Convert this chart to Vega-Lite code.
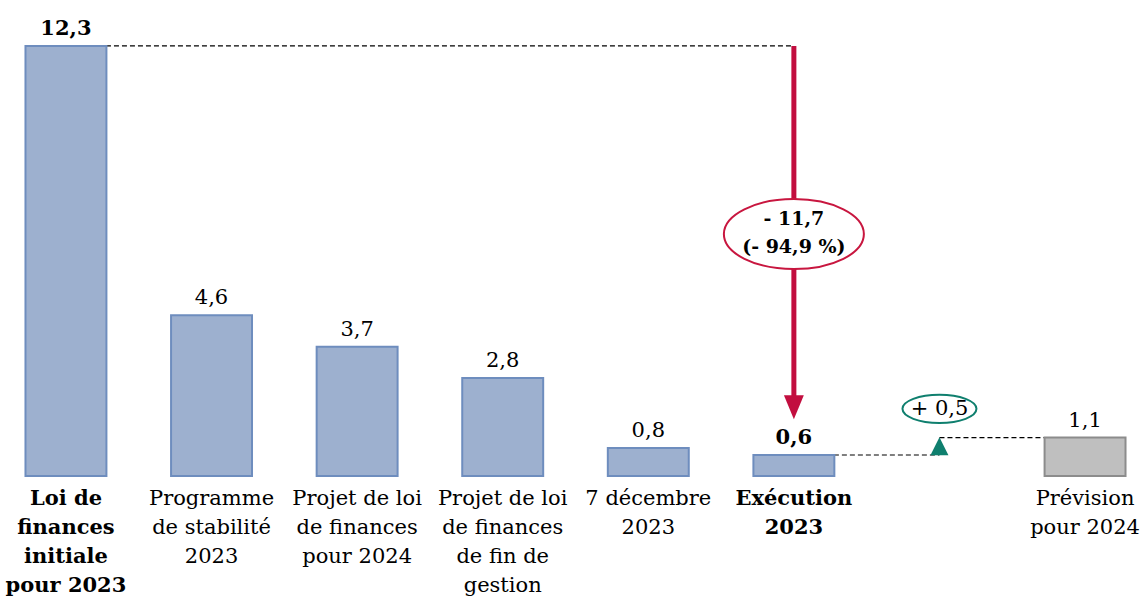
{
  "$schema": "https://vega.github.io/schema/vega-lite/v6.json",
  "width": 1151,
  "height": 476,
  "autosize": {"type": "none"},
  "padding": {"left": 0, "top": 0, "right": 0, "bottom": 120},
  "config": {
    "view": {"stroke": null},
    "font": "DejaVu Serif",
    "locale": {"number": {"decimal": ",", "thousands": " ", "grouping": [3], "currency": ["", " €"]}}
  },
  "datasets": {
    "bars": [
      {"cat": "Loi de|finances|initiale|pour 2023", "value": 12.3, "kind": "hist", "strong": true},
      {"cat": "Programme|de stabilité|2023", "value": 4.6, "kind": "hist", "strong": false},
      {"cat": "Projet de loi|de finances|pour 2024", "value": 3.7, "kind": "hist", "strong": false},
      {"cat": "Projet de loi|de finances|de fin de|gestion", "value": 2.8, "kind": "hist", "strong": false},
      {"cat": "7 décembre|2023", "value": 0.8, "kind": "hist", "strong": false},
      {"cat": "Exécution|2023", "value": 0.6, "kind": "hist", "strong": true},
      {"cat": "Prévision|pour 2024", "value": 1.1, "kind": "prev", "strong": false}
    ],
    "connectors": [
      {"cat": "Loi de|finances|initiale|pour 2023", "cat2": "Exécution|2023", "value": 12.3},
      {"cat": "Exécution|2023", "cat2": " ", "value": 0.6},
      {"cat": " ", "cat2": "Prévision|pour 2024", "value": 1.1}
    ],
    "redArrow": [
      {"cat": "Exécution|2023", "value": 12.3, "end": 2.2, "head": 1.97, "bubble": 6.92, "text": "- 11,7|(- 94,9 %)"}
    ],
    "greenMark": [
      {"cat": " ", "tri": 0.85, "bubble": 1.92, "text": "+ 0,5"}
    ]
  },
  "encoding": {
    "x": {
      "field": "cat",
      "type": "nominal",
      "sort": null,
      "scale": {
        "domain": [
          "Loi de|finances|initiale|pour 2023",
          "Programme|de stabilité|2023",
          "Projet de loi|de finances|pour 2024",
          "Projet de loi|de finances|de fin de|gestion",
          "7 décembre|2023",
          "Exécution|2023",
          " ",
          "Prévision|pour 2024"
        ],
        "paddingInner": 0.444,
        "paddingOuter": 0.175
      },
      "axis": {
        "title": null,
        "domain": false,
        "ticks": false,
        "labelAngle": 0,
        "labelLimit": 0,
        "labelOverlap": false,
        "labelFont": "DejaVu Serif",
        "labelFontSize": 21,
        "labelColor": "#000000",
        "labelBaseline": "top",
        "labelPadding": 11,
        "labelLineHeight": 29,
        "labelExpr": "split(datum.value, '|')",
        "labelFontWeight": {
          "condition": {"test": "datum.value == 'Loi de|finances|initiale|pour 2023' || datum.value == 'Exécution|2023'", "value": "bold"},
          "value": "normal"
        }
      }
    }
  },
  "layer": [
    {
      "data": {"name": "connectors"},
      "mark": {"type": "rule", "color": "#000000", "strokeWidth": 1.2, "strokeDash": [5, 3]},
      "encoding": {
        "x2": {"field": "cat2"},
        "y": {"field": "value", "type": "quantitative", "scale": {"domain": [0, 13.615], "nice": false}, "axis": null}
      }
    },
    {
      "data": {"name": "redArrow"},
      "mark": {"type": "rule", "color": "#C20E3F", "strokeWidth": 5},
      "encoding": {
        "y": {"field": "value", "type": "quantitative"},
        "y2": {"field": "end"}
      }
    },
    {
      "data": {"name": "bars"},
      "mark": {"type": "bar", "strokeWidth": 2},
      "encoding": {
        "y": {"field": "value", "type": "quantitative"},
        "fill": {"field": "kind", "type": "nominal", "scale": {"domain": ["hist", "prev"], "range": ["#9DB0CF", "#BFBFBF"]}, "legend": null},
        "stroke": {"field": "kind", "type": "nominal", "scale": {"domain": ["hist", "prev"], "range": ["#6E8DBE", "#8C8C8C"]}, "legend": null}
      }
    },
    {
      "data": {"name": "bars"},
      "transform": [{"filter": "datum.strong"}],
      "mark": {"type": "text", "fontSize": 21, "fontWeight": "bold", "baseline": "alphabetic", "dy": -11, "color": "#000000"},
      "encoding": {
        "y": {"field": "value", "type": "quantitative"},
        "text": {"field": "value", "type": "quantitative", "format": ".1f"}
      }
    },
    {
      "data": {"name": "bars"},
      "transform": [{"filter": "!datum.strong"}],
      "mark": {"type": "text", "fontSize": 21, "baseline": "alphabetic", "dy": -11, "color": "#000000"},
      "encoding": {
        "y": {"field": "value", "type": "quantitative"},
        "text": {"field": "value", "type": "quantitative", "format": ".1f"}
      }
    },
    {
      "data": {"name": "redArrow"},
      "mark": {"type": "point", "shape": "M-1,0A1,0.5,0,1,0,1,0A1,0.5,0,1,0,-1,0Z", "size": 19600, "filled": false, "fill": "#ffffff", "fillOpacity": 1, "stroke": "#C8163F", "strokeWidth": 2, "opacity": 1},
      "encoding": {
        "y": {"field": "bubble", "type": "quantitative"}
      }
    },
    {
      "data": {"name": "redArrow"},
      "mark": {"type": "text", "fontSize": 19, "fontWeight": "bold", "lineBreak": "|", "lineHeight": 28, "baseline": "middle", "dy": -15, "color": "#000000"},
      "encoding": {
        "y": {"field": "bubble", "type": "quantitative"},
        "text": {"field": "text"}
      }
    },
    {
      "data": {"name": "redArrow"},
      "mark": {"type": "point", "shape": "M-0.83,-1L0.83,-1L0,1Z", "size": 576, "filled": true, "fill": "#C20E3F", "strokeWidth": 0, "opacity": 1},
      "encoding": {
        "y": {"field": "head", "type": "quantitative"}
      }
    },
    {
      "data": {"name": "greenMark"},
      "mark": {"type": "point", "shape": "M0,-1L1,1L-1,1Z", "size": 324, "filled": true, "fill": "#0F7F6E", "strokeWidth": 0, "opacity": 1},
      "encoding": {
        "y": {"field": "tri", "type": "quantitative"}
      }
    },
    {
      "data": {"name": "greenMark"},
      "mark": {"type": "point", "shape": "M-1,0A1,0.38,0,1,0,1,0A1,0.38,0,1,0,-1,0Z", "size": 5476, "filled": false, "fill": "#ffffff", "fillOpacity": 1, "stroke": "#0F7F6E", "strokeWidth": 2, "opacity": 1},
      "encoding": {
        "y": {"field": "bubble", "type": "quantitative"}
      }
    },
    {
      "data": {"name": "greenMark"},
      "mark": {"type": "text", "fontSize": 21, "baseline": "middle", "color": "#000000"},
      "encoding": {
        "y": {"field": "bubble", "type": "quantitative"},
        "text": {"field": "text"}
      }
    }
  ]
}
